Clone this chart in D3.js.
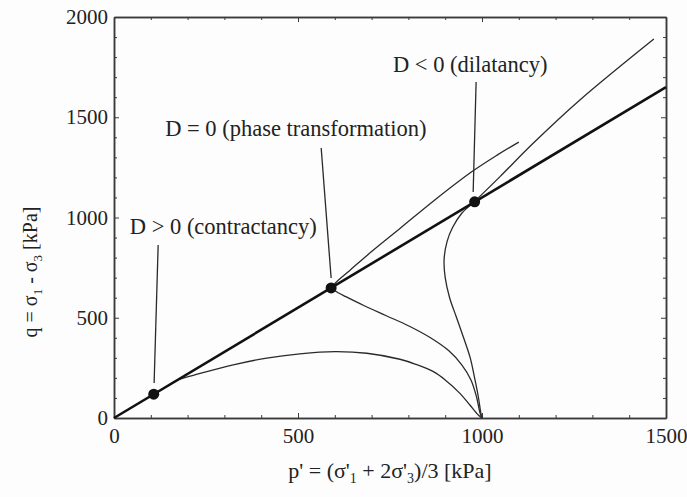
<!DOCTYPE html>
<html>
<head>
<meta charset="utf-8">
<script src="https://cdn.jsdelivr.net/npm/d3@7"></script>
<style>
  html, body { margin: 0; padding: 0; background: #fdfdfd; }
  svg { display: block; }
</style>
</head>
<body>
<svg id="chart" width="687" height="497" font-family="'Liberation Serif', 'Times New Roman', Times, serif"></svg>
<script>
// Axis ranges and tick labels
const xDomain = [0, 1500];
const yDomain = [0, 2000];
const xMajorTicks = [0, 500, 1000, 1500];
const yMajorTicks = [0, 500, 1000, 1500, 2000];
const minorStep = 100;

// Critical state line q = M p'
const lineM = 1.1;
const cslP = [0, 1500];

// Undrained stress paths starting from p' = 1000 kPa  [p', q]
const pathLoose = [
  [1000, 0], [990, 15], [967, 65], [940, 123], [900, 190], [868, 231], [820, 268],
  [777, 293], [687, 323], [600, 331], [505, 320], [415, 299], [324, 265],
  [234, 222], [174, 190], [140, 154], [108, 119]
];
const pathMedium = [
  [1000, 0], [995, 23], [985, 106], [970, 190], [945, 265], [910, 335],
  [860, 400], [800, 460], [740, 510], [680, 560], [630, 605], [600, 635], [590, 650]
];
const pathMediumAfter = [
  [590, 650], [605, 680], [640, 735], [700, 830], [777, 945], [870, 1085],
  [972, 1228], [1040, 1310], [1100, 1376]
];
const pathDense = [
  [1000, 0], [997, 23], [990, 106], [981, 190], [968, 300], [950, 400], [930, 505],
  [912, 600], [900, 700], [897, 790], [905, 880], [920, 950], [945, 1021],
  [978, 1077], [1049, 1204], [1139, 1370], [1266, 1586], [1467, 1890]
];

// Marked states on the critical state line (p')
const markerP = [108, 590, 980];

// Annotations: text position (left, baseline) and leader line, all in kPa
const noteText = ["D > 0 (contractancy)", "D = 0 (phase transformation)", "D < 0 (dilatancy)"];
const noteAt = [[43, 918], [139, 1405], [758, 1725]];
const noteLeader = [
  [[120, 863], [109, 175]],
  [[563, 1347], [590, 698]],
  [[984, 1676], [976, 1127]]
];

const FONT = "'Liberation Serif', 'Times New Roman', Times, serif";
const svg = d3.select("#chart");
const margin = { left: 114, right: 687 - 666, top: 17, bottom: 497 - 418 };
const W = 687, H = 497;

const x = d3.scaleLinear().domain(xDomain).range([margin.left, W - margin.right]);
const y = d3.scaleLinear().domain(yDomain).range([H - margin.bottom, margin.top]);

const axisColor = "#3a3a3a";
const minorX = d3.range(xDomain[0], xDomain[1] + 1, minorStep).filter(v => !xMajorTicks.includes(v));
const minorY = d3.range(yDomain[0], yDomain[1] + 1, minorStep).filter(v => !yMajorTicks.includes(v));

function styleAxis(g) {
  g.attr("font-family", FONT);
  g.selectAll("path.domain").attr("stroke", axisColor).attr("stroke-width", 1.5);
  g.selectAll(".tick line").attr("stroke", axisColor).attr("stroke-width", 1);
  g.selectAll(".tick text")
    .attr("font-family", FONT)
    .attr("font-size", 21).attr("fill", "#222");
}

// Bottom axis with labels
svg.append("g").attr("transform", `translate(0,${y(0)})`)
  .call(d3.axisBottom(x).tickValues(xMajorTicks).tickSizeInner(-5).tickSizeOuter(0).tickPadding(10).tickFormat(d3.format("d")))
  .call(styleAxis);
svg.append("g").attr("transform", `translate(0,${y(0)})`)
  .call(d3.axisBottom(x).tickValues(minorX).tickSizeInner(-3).tickSizeOuter(0).tickFormat(""))
  .call(styleAxis);
// Top axis
svg.append("g").attr("transform", `translate(0,${y(yDomain[1])})`)
  .call(d3.axisTop(x).tickValues(xMajorTicks).tickSizeInner(-5).tickSizeOuter(0).tickFormat(""))
  .call(styleAxis);
svg.append("g").attr("transform", `translate(0,${y(yDomain[1])})`)
  .call(d3.axisTop(x).tickValues(minorX).tickSizeInner(-3).tickSizeOuter(0).tickFormat(""))
  .call(styleAxis);
// Left axis with labels
svg.append("g").attr("transform", `translate(${x(0)},0)`)
  .call(d3.axisLeft(y).tickValues(yMajorTicks).tickSizeInner(-5).tickSizeOuter(0).tickPadding(6).tickFormat(d3.format("d")))
  .call(styleAxis);
svg.append("g").attr("transform", `translate(${x(0)},0)`)
  .call(d3.axisLeft(y).tickValues(minorY).tickSizeInner(-3).tickSizeOuter(0).tickFormat(""))
  .call(styleAxis);
// Right axis
svg.append("g").attr("transform", `translate(${x(xDomain[1])},0)`)
  .call(d3.axisRight(y).tickValues(yMajorTicks).tickSizeInner(-5).tickSizeOuter(0).tickFormat(""))
  .call(styleAxis);
svg.append("g").attr("transform", `translate(${x(xDomain[1])},0)`)
  .call(d3.axisRight(y).tickValues(minorY).tickSizeInner(-3).tickSizeOuter(0).tickFormat(""))
  .call(styleAxis);

// Stress paths
const line = d3.line().x(d => x(d[0])).y(d => y(d[1])).curve(d3.curveCatmullRom.alpha(0.5));
[pathLoose, pathMedium, pathMediumAfter, pathDense].forEach(p => {
  svg.append("path").datum(p).attr("d", line)
    .attr("fill", "none").attr("stroke", "#2a2a2a").attr("stroke-width", 1.3);
});

// Critical state line
svg.append("path")
  .datum(cslP.map(p => [p, lineM * p]))
  .attr("d", d3.line().x(d => x(d[0])).y(d => y(d[1])))
  .attr("fill", "none").attr("stroke", "#111").attr("stroke-width", 2.6);

// Leader lines
noteLeader.forEach(l => {
  svg.append("line")
    .attr("x1", x(l[0][0])).attr("y1", y(l[0][1]))
    .attr("x2", x(l[1][0])).attr("y2", y(l[1][1]))
    .attr("stroke", "#2a2a2a").attr("stroke-width", 1.3);
});

// Markers
svg.selectAll("circle.m").data(markerP).enter().append("circle")
  .attr("class", "m")
  .attr("cx", d => x(d)).attr("cy", d => y(lineM * d))
  .attr("r", 5.5).attr("fill", "#111");

// Annotation text
noteText.forEach((t, i) => {
  svg.append("text").attr("x", x(noteAt[i][0])).attr("y", y(noteAt[i][1]))
    .attr("font-family", FONT).attr("font-size", 22.5).attr("fill", "#222").text(t);
});

// Axis titles
const yt = svg.append("text")
  .attr("transform", `translate(37,272) rotate(-90)`)
  .attr("text-anchor", "middle").attr("font-family", FONT).attr("font-size", 20).attr("fill", "#222");
yt.append("tspan").text("q = σ");
yt.append("tspan").attr("dy", 5).attr("font-size", 13).text("1");
yt.append("tspan").attr("dy", -5).text(" - σ");
yt.append("tspan").attr("dy", 5).attr("font-size", 13).text("3");
yt.append("tspan").attr("dy", -5).text(" [kPa]");

const xt = svg.append("text")
  .attr("x", 390).attr("y", 478)
  .attr("text-anchor", "middle").attr("font-family", FONT).attr("font-size", 22).attr("fill", "#222");
xt.append("tspan").text("p' = (σ'");
xt.append("tspan").attr("dy", 5).attr("font-size", 14).text("1");
xt.append("tspan").attr("dy", -5).text(" + 2σ'");
xt.append("tspan").attr("dy", 5).attr("font-size", 14).text("3");
xt.append("tspan").attr("dy", -5).text(")/3 [kPa]");
</script>
</body>
</html>
